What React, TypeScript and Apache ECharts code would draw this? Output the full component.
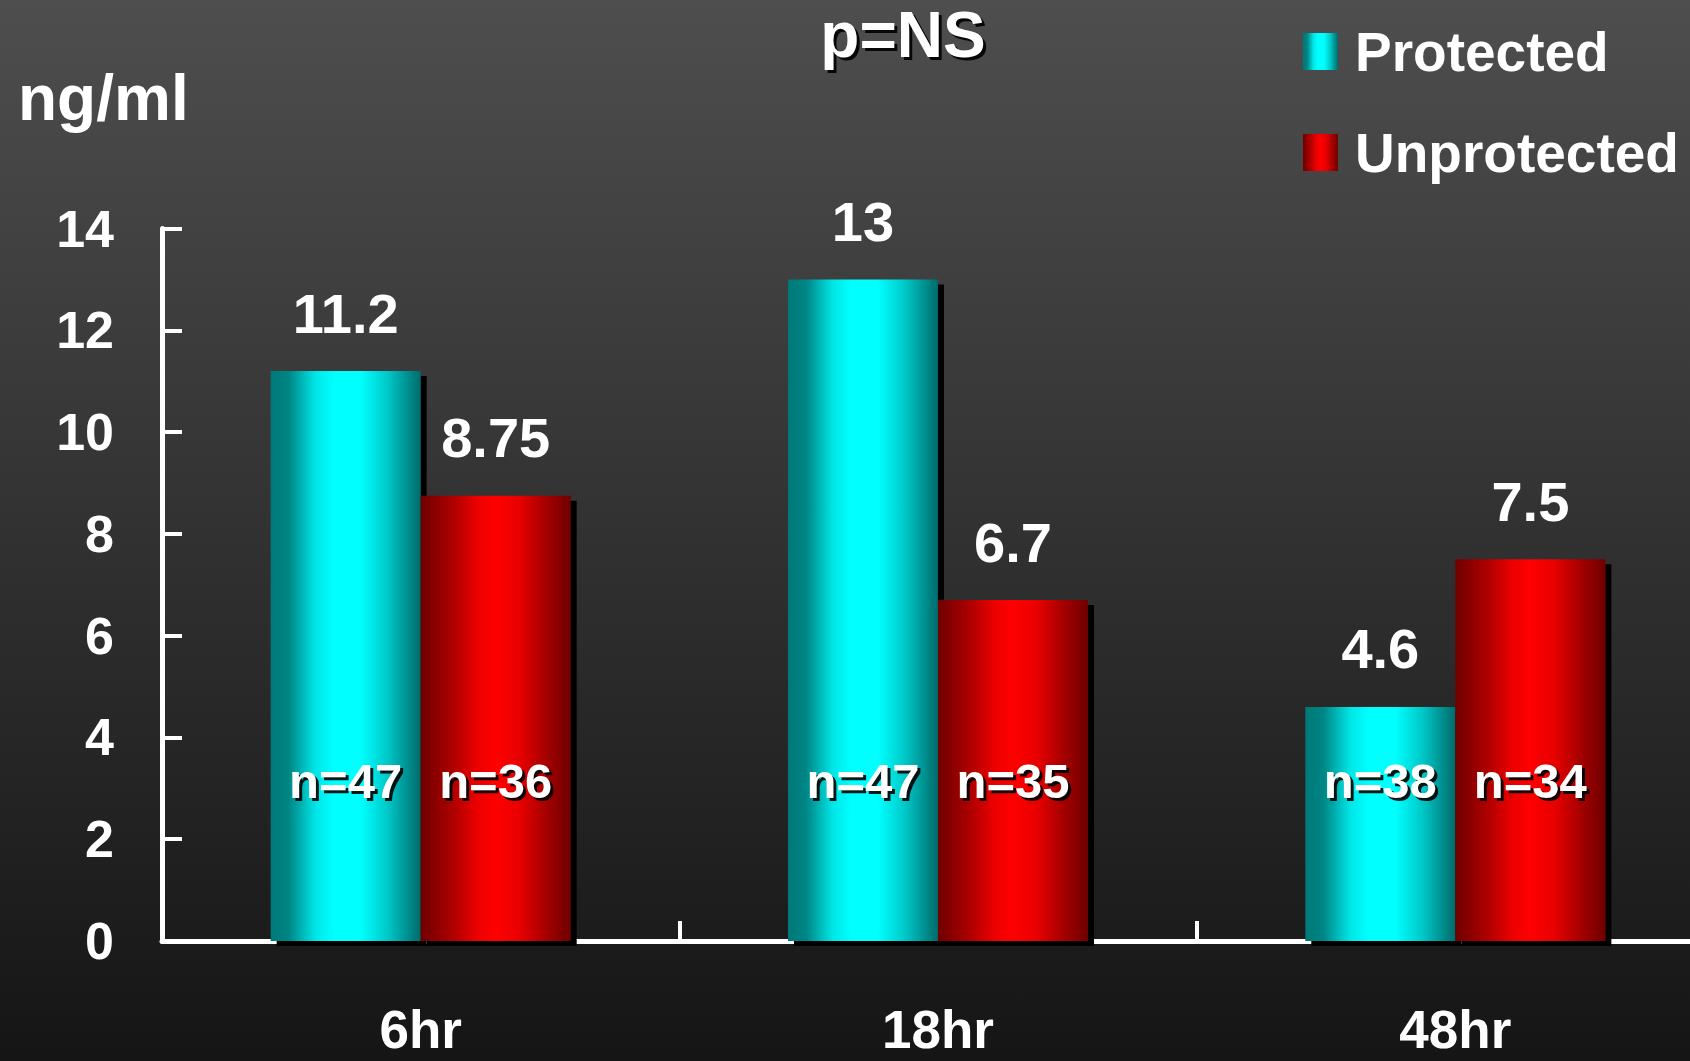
import React, { useEffect, useRef } from "react";
import * as echarts from "echarts";

// Time points after the event
const categories = ["6hr", "18hr", "48hr"];
// Mean concentration (ng/ml)
const protectedValues = [11.2, 13, 4.6];
const unprotectedValues = [8.75, 6.7, 7.5];
// Group sizes
const protectedN = [47, 47, 38];
const unprotectedN = [36, 35, 34];
// Y axis ticks
const yMin = 0;
const yMax = 14;
const yStep = 2;

// Height (in axis units) at which the group-size labels sit
const N_LABEL_LEVEL = 3.15;

const FONT = "'Liberation Sans', Arial, sans-serif";
const SHADOW = "rgba(0,0,0,0.9)";

// The plot runs past the right edge of the visible page, so the canvas is
// wider than the frame that shows it.
const VIEW_W = 1690;
const VIEW_H = 1061;
const CANVAS_W = 1714;

// Horizontal "cylinder" shading for the bars
const cyanFill = new echarts.graphic.LinearGradient(0, 0, 1, 0, [
  { offset: 0, color: "#007878" },
  { offset: 0.12, color: "#008585" },
  { offset: 0.3, color: "#00e6e6" },
  { offset: 0.42, color: "#00ffff" },
  { offset: 0.6, color: "#00ffff" },
  { offset: 0.78, color: "#00c8c8" },
  { offset: 1, color: "#006a6a" },
]);
const redFill = new echarts.graphic.LinearGradient(0, 0, 1, 0, [
  { offset: 0, color: "#6e0000" },
  { offset: 0.22, color: "#b00000" },
  { offset: 0.38, color: "#ec0000" },
  { offset: 0.5, color: "#ff0000" },
  { offset: 0.66, color: "#e80000" },
  { offset: 0.85, color: "#a00000" },
  { offset: 1, color: "#6e0000" },
]);

const nLabel = {
  show: true,
  position: "inside",
  formatter: "{b}",
  color: "#ffffff",
  fontFamily: FONT,
  fontWeight: "bold",
  fontSize: 49,
  textBorderWidth: 0,
};

// Group-size marks: a dark copy offset down-right acts as the drop shadow
function nMarks(ns: number[]) {
  const shadows = ns.map((n, i) => ({
    name: `n=${n}`,
    coord: [categories[i], N_LABEL_LEVEL],
    label: { color: SHADOW, offset: [3, 3] },
  }));
  const texts = ns.map((n, i) => ({
    name: `n=${n}`,
    coord: [categories[i], N_LABEL_LEVEL],
  }));
  return [...shadows, ...texts];
}

function barSeries(name: string, values: number[], ns: number[], fill: any) {
  return {
    name,
    type: "bar",
    data: values,
    barGap: "0%",
    barCategoryGap: "42%",
    itemStyle: {
      color: fill,
      shadowColor: "#000000",
      shadowOffsetX: 6,
      shadowOffsetY: 5,
      shadowBlur: 0,
    },
    label: {
      show: true,
      position: "top",
      distance: 30,
      color: "#ffffff",
      fontFamily: FONT,
      fontWeight: "bold",
      fontSize: 56,
      textBorderWidth: 0,
    },
    markPoint: {
      silent: true,
      symbol: "rect",
      symbolSize: [1, 1],
      itemStyle: { color: "rgba(0,0,0,0)", shadowBlur: 0 },
      label: nLabel,
      data: nMarks(ns),
    },
  };
}

export default function App() {
  const ref = useRef<HTMLDivElement>(null);

  useEffect(() => {
    if (!ref.current) return;
    const chart = echarts.init(ref.current, undefined, { renderer: "svg" });
    const titleFont = `bold 64px ${FONT}`;
    chart.setOption({
      animation: false,
      backgroundColor: new echarts.graphic.LinearGradient(0, 0, 0, 1, [
        { offset: 0, color: "#4e4e4e" },
        { offset: 1, color: "#151515" },
      ]),
      textStyle: { fontFamily: FONT },
      grid: {
        left: 162,
        top: 228.5,
        right: 0,
        bottom: 120,
        containLabel: false,
        outerBoundsMode: "none",
      },
      legend: {
        data: ["Protected", "Unprotected"],
        orient: "vertical",
        left: 1298,
        top: 19,
        itemWidth: 35,
        itemHeight: 37,
        itemGap: 46,
        icon: "rect",
        textStyle: {
          color: "#ffffff",
          fontFamily: FONT,
          fontWeight: "bold",
          fontSize: 55,
          padding: [0, 0, 0, 12],
        },
        itemStyle: { shadowBlur: 0, shadowOffsetX: 0, shadowOffsetY: 0, shadowColor: "transparent" },
      },
      xAxis: {
        type: "category",
        data: categories,
        axisLine: { lineStyle: { color: "#ffffff", width: 5, cap: "round" } },
        axisTick: { show: true, inside: true, length: 20, lineStyle: { color: "#ffffff", width: 4 } },
        axisLabel: {
          color: "#ffffff",
          fontFamily: FONT,
          fontWeight: "bold",
          fontSize: 53,
          lineHeight: 48,
          margin: 64,
        },
        splitLine: { show: false },
      },
      yAxis: {
        type: "value",
        min: yMin,
        max: yMax,
        interval: yStep,
        axisLine: { show: true, lineStyle: { color: "#ffffff", width: 5, cap: "round" } },
        axisTick: { show: true, inside: true, length: 20, lineStyle: { color: "#ffffff", width: 4 } },
        axisLabel: {
          color: "#ffffff",
          fontFamily: FONT,
          fontWeight: "bold",
          fontSize: 52,
          margin: 48,
        },
        splitLine: { show: false },
      },
      graphic: [
        {
          type: "text",
          left: 18,
          top: 66,
          style: {
            text: "ng/ml",
            fill: "#ffffff",
            font: titleFont,
          },
        },
        {
          type: "text",
          x: 906,
          y: 38,
          style: {
            text: "p=NS",
            fill: SHADOW,
            font: titleFont,
            lineHeight: 56,
            textAlign: "center",
            textVerticalAlign: "middle",
            align: "center",
            verticalAlign: "middle",
          },
        },
        {
          type: "text",
          x: 903,
          y: 35,
          style: {
            text: "p=NS",
            fill: "#ffffff",
            font: titleFont,
            lineHeight: 56,
            textAlign: "center",
            textVerticalAlign: "middle",
            align: "center",
            verticalAlign: "middle",
          },
        },
      ],
      series: [
        barSeries("Protected", protectedValues, protectedN, cyanFill),
        barSeries("Unprotected", unprotectedValues, unprotectedN, redFill),
      ],
    });
    return () => chart.dispose();
  }, []);

  return (
    <div
      style={{
        position: "fixed",
        left: 0,
        top: 0,
        width: VIEW_W,
        height: VIEW_H,
        overflow: "hidden",
      }}
    >
      <div ref={ref} style={{ width: CANVAS_W, height: VIEW_H }} />
    </div>
  );
}
